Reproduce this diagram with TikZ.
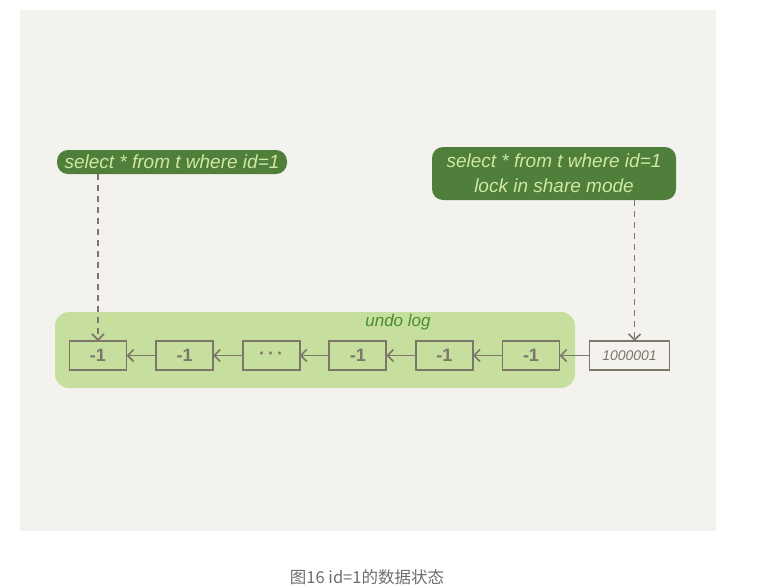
\documentclass[tikz,border=0pt]{standalone}
\usepackage{fontspec}
\setmainfont{Liberation Sans}
\newfontfamily\cjk{Noto Sans CJK SC}
\usetikzlibrary{positioning,arrows.meta}
\definecolor{panel}{HTML}{F3F2EE}
\definecolor{logbg}{HTML}{C6DF9E}
\definecolor{qgreen}{HTML}{4F7F3B}
\definecolor{qtext}{HTML}{CFE8A4}
\definecolor{logtext}{HTML}{4C8C2F}
\definecolor{boxgray}{HTML}{7D7769}
\definecolor{capgray}{HTML}{6E6E6E}
\begin{document}
\begin{tikzpicture}[x=1pt,y=-1pt,node distance=29.6pt,
    rec/.style={draw=boxgray,line width=1.8pt,minimum width=57pt,minimum height=29pt,
      inner sep=0pt,outer sep=0pt,text=boxgray,font=\fontsize{18}{18}\selectfont\bfseries},
    query/.style={fill=qgreen,rounded corners=11pt,text=qtext,align=center,
      font=\fontsize{19}{25}\selectfont\itshape},
    link/.style={draw=boxgray,line width=1.6pt,-{Straight Barb[length=6pt,width=12pt]}},
    look/.style={link,dash pattern=on 6pt off 5pt}]
\useasboundingbox[fill=white] (0,0) rectangle (760,587);
\fill[panel] (20,10) rectangle (716,531);
\fill[logbg,rounded corners=14pt] (55,312) rectangle (575,388);
\node[text=logtext,font=\fontsize{17}{17}\selectfont\itshape] (undo) at (398,322) {undo log};
% version chain
\node[rec] (b1) at (98,355.5) {-1};
\node[rec,right=of b1] (b2) {-1};
\node[rec,right=of b2] (b3) {\raisebox{-2pt}{·\,·\,·}};
\node[rec,right=of b3] (b4) {-1};
\node[rec,right=of b4] (b5) {-1};
\node[rec,right=of b5] (b6) {-1};
\node[rec,right=30pt of b6,minimum width=80pt,font=\fontsize{14}{14}\selectfont\itshape] (row) {1000001};
\foreach \a/\b in {b2/b1,b3/b2,b4/b3,b5/b4,b6/b5,row/b6}
  \draw[link] (\a) -- (\b);
% queries
\node[query,minimum width=230pt,minimum height=24pt,inner sep=1pt] (q1) at (172,162) {select * from t where id=1};
\node[query,minimum width=244pt,minimum height=53pt,inner sep=1pt] (q2) at (554,173.5) {select * from t where id=1\\lock in share mode};
\draw[look] (b1.north |- q1.south) -- (b1.north);
\draw[look] ([xshift=5pt]row.north |- q2.south) -- ([xshift=5pt]row.north);
% caption
\node[text=capgray,font=\cjk\fontsize{16.5}{17}\selectfont] (cap) at (367,577) {图16 id=1的数据状态};
\end{tikzpicture}
\end{document}
